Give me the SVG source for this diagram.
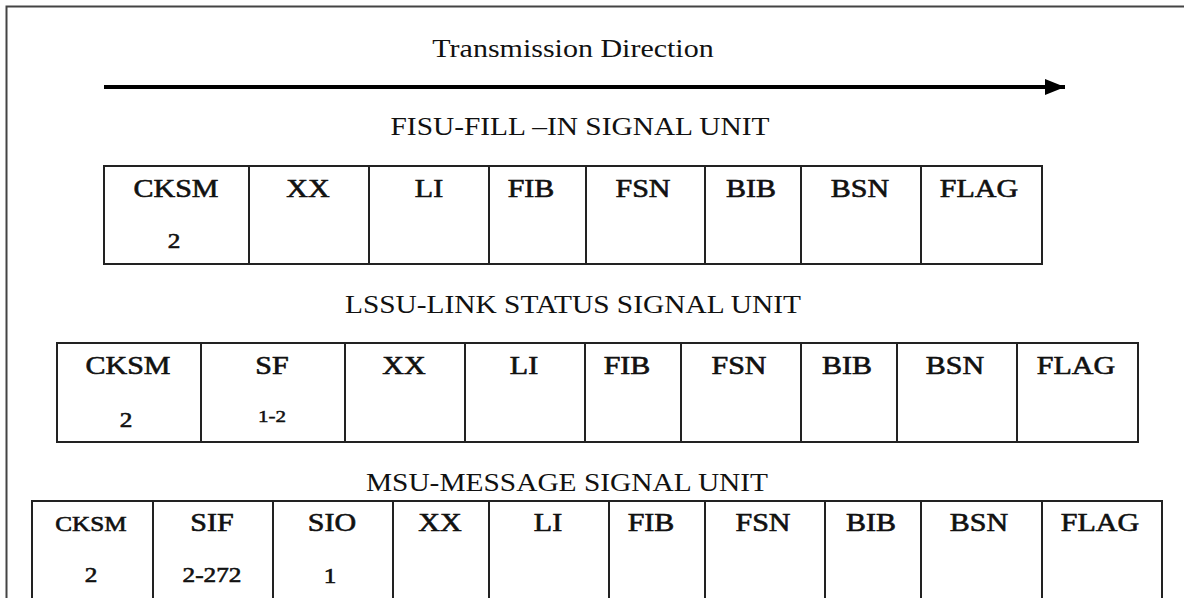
<svg xmlns="http://www.w3.org/2000/svg" width="1184" height="598" viewBox="0 0 1184 598">
<style>
  text { font-family: "Liberation Serif", "Times New Roman", serif; fill: #111; text-anchor: middle; }
  .t { font-size: 25px; }
  .h { font-size: 24.5px; }
  .l { font-size: 25px; stroke: #111; stroke-width: 0.6px; }
  .s { font-size: 21px; stroke: #111; stroke-width: 0.6px; }
  .xs { font-size: 17.5px; stroke: #111; stroke-width: 0.5px; }
  .cell { fill: #fff; stroke: #222; stroke-width: 2; }
  .frame { fill: #fff; stroke: #444; stroke-width: 2; }
</style>
<defs>
  <marker id="ah" markerUnits="userSpaceOnUse" markerWidth="20" markerHeight="16" refX="20" refY="8" orient="auto">
    <polygon points="0,0 20,8 0,16" fill="#000"/>
  </marker>
</defs>
<rect class="frame" x="6.5" y="6.5" width="1220" height="640"/>

<g id="title">
  <text class="t" transform="matrix(1.2 0 0 1 573 57)">Transmission Direction</text>
</g>

<g id="connectors">
  <line x1="104" y1="87" x2="1065" y2="87" stroke="#000" stroke-width="4" marker-end="url(#ah)"/>
</g>

<g id="fisu">
  <text class="h" transform="matrix(1.2 0 0 1 580 135)">FISU-FILL –IN SIGNAL UNIT</text>
  <g id="fisu-cksm"><rect class="cell" x="104" y="166" width="145" height="98"/><text class="l" transform="matrix(1.2 0 0 1 176 197)">CKSM</text><text class="s" transform="matrix(1.2 0 0 1 174 248)">2</text></g>
  <g id="fisu-xx"><rect class="cell" x="249" y="166" width="120" height="98"/><text class="l" transform="matrix(1.2 0 0 1 308 197)">XX</text></g>
  <g id="fisu-li"><rect class="cell" x="369" y="166" width="120" height="98"/><text class="l" transform="matrix(1.2 0 0 1 429 197)">LI</text></g>
  <g id="fisu-fib"><rect class="cell" x="489" y="166" width="97" height="98"/><text class="l" transform="matrix(1.2 0 0 1 531 197)">FIB</text></g>
  <g id="fisu-fsn"><rect class="cell" x="586" y="166" width="119" height="98"/><text class="l" transform="matrix(1.2 0 0 1 643 197)">FSN</text></g>
  <g id="fisu-bib"><rect class="cell" x="705" y="166" width="96" height="98"/><text class="l" transform="matrix(1.2 0 0 1 751 197)">BIB</text></g>
  <g id="fisu-bsn"><rect class="cell" x="801" y="166" width="120" height="98"/><text class="l" transform="matrix(1.2 0 0 1 860 197)">BSN</text></g>
  <g id="fisu-flag"><rect class="cell" x="921" y="166" width="121" height="98"/><text class="l" transform="matrix(1.2 0 0 1 979 197)">FLAG</text></g>
</g>

<g id="lssu">
  <text class="h" transform="matrix(1.2 0 0 1 573 313)">LSSU-LINK STATUS SIGNAL UNIT</text>
  <g id="lssu-cksm"><rect class="cell" x="57" y="343" width="144" height="99"/><text class="l" transform="matrix(1.2 0 0 1 128 374)">CKSM</text><text class="s" transform="matrix(1.2 0 0 1 126 427)">2</text></g>
  <g id="lssu-sf"><rect class="cell" x="201" y="343" width="144" height="99"/><text class="l" transform="matrix(1.2 0 0 1 272 374)">SF</text><text class="xs" transform="matrix(1.2 0 0 1 272 422)">1-2</text></g>
  <g id="lssu-xx"><rect class="cell" x="345" y="343" width="120" height="99"/><text class="l" transform="matrix(1.2 0 0 1 404 374)">XX</text></g>
  <g id="lssu-li"><rect class="cell" x="465" y="343" width="120" height="99"/><text class="l" transform="matrix(1.2 0 0 1 524 374)">LI</text></g>
  <g id="lssu-fib"><rect class="cell" x="585" y="343" width="96" height="99"/><text class="l" transform="matrix(1.2 0 0 1 627 374)">FIB</text></g>
  <g id="lssu-fsn"><rect class="cell" x="681" y="343" width="120" height="99"/><text class="l" transform="matrix(1.2 0 0 1 739 374)">FSN</text></g>
  <g id="lssu-bib"><rect class="cell" x="801" y="343" width="96" height="99"/><text class="l" transform="matrix(1.2 0 0 1 847 374)">BIB</text></g>
  <g id="lssu-bsn"><rect class="cell" x="897" y="343" width="120" height="99"/><text class="l" transform="matrix(1.2 0 0 1 955 374)">BSN</text></g>
  <g id="lssu-flag"><rect class="cell" x="1017" y="343" width="121" height="99"/><text class="l" transform="matrix(1.2 0 0 1 1076 374)">FLAG</text></g>
</g>

<g id="msu">
  <text class="h" transform="matrix(1.2 0 0 1 567 491)">MSU-MESSAGE SIGNAL UNIT</text>
  <g id="msu-cksm"><rect class="cell" x="32" y="501" width="121" height="120"/><text class="s" transform="matrix(1.2 0 0 1 91 531)">CKSM</text><text class="s" transform="matrix(1.2 0 0 1 91 582)">2</text></g>
  <g id="msu-sif"><rect class="cell" x="153" y="501" width="120" height="120"/><text class="l" transform="matrix(1.2 0 0 1 212 531)">SIF</text><text class="s" transform="matrix(1.2 0 0 1 212 582)">2-272</text></g>
  <g id="msu-sio"><rect class="cell" x="273" y="501" width="120" height="120"/><text class="l" transform="matrix(1.2 0 0 1 332 531)">SIO</text><text class="s" transform="matrix(1.2 0 0 1 330 583)">1</text></g>
  <g id="msu-xx"><rect class="cell" x="393" y="501" width="96" height="120"/><text class="l" transform="matrix(1.2 0 0 1 440 531)">XX</text></g>
  <g id="msu-li"><rect class="cell" x="489" y="501" width="120" height="120"/><text class="l" transform="matrix(1.2 0 0 1 548 531)">LI</text></g>
  <g id="msu-fib"><rect class="cell" x="609" y="501" width="96" height="120"/><text class="l" transform="matrix(1.2 0 0 1 651 531)">FIB</text></g>
  <g id="msu-fsn"><rect class="cell" x="705" y="501" width="120" height="120"/><text class="l" transform="matrix(1.2 0 0 1 763 531)">FSN</text></g>
  <g id="msu-bib"><rect class="cell" x="825" y="501" width="96" height="120"/><text class="l" transform="matrix(1.2 0 0 1 871 531)">BIB</text></g>
  <g id="msu-bsn"><rect class="cell" x="921" y="501" width="121" height="120"/><text class="l" transform="matrix(1.2 0 0 1 979 531)">BSN</text></g>
  <g id="msu-flag"><rect class="cell" x="1042" y="501" width="120" height="120"/><text class="l" transform="matrix(1.2 0 0 1 1100 531)">FLAG</text></g>
</g>
</svg>
